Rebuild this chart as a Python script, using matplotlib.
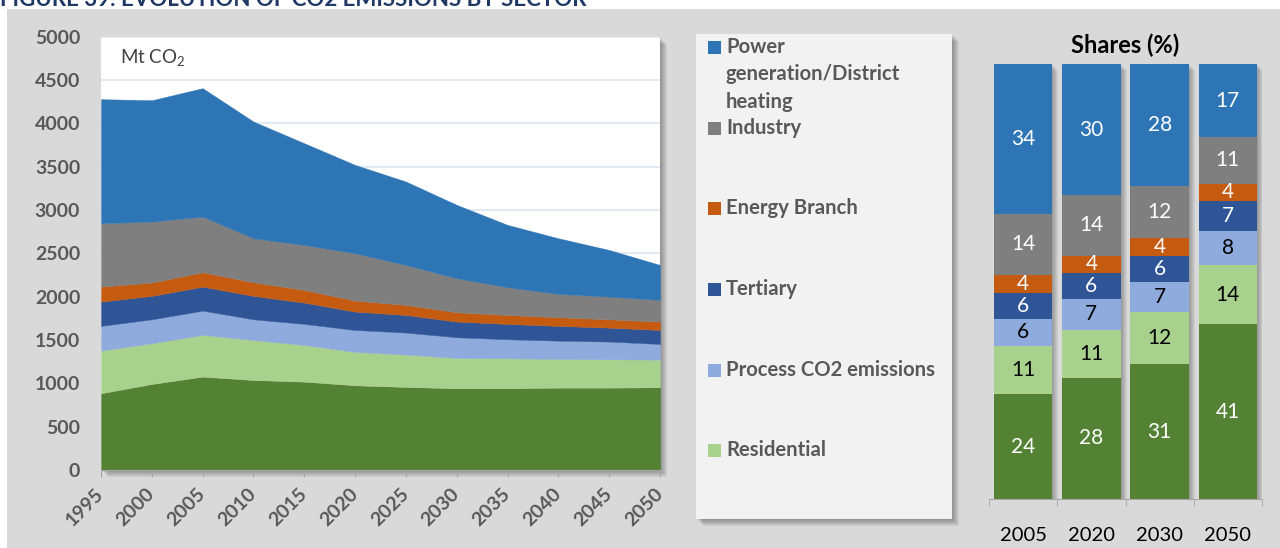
import matplotlib.pyplot as plt
from matplotlib.patches import Rectangle

plt.rcParams['font.family'] = ['Lato', 'DejaVu Sans']
plt.rcParams['mathtext.fontset'] = 'custom'
plt.rcParams['mathtext.rm'] = 'Lato'
plt.rcParams['mathtext.it'] = 'Lato:italic'
plt.rcParams['mathtext.bf'] = 'Lato:bold'

W, H = 1280, 548

# emissions by sector, Mt CO2
years = [1995, 2000, 2005, 2010, 2015, 2020, 2025, 2030, 2035, 2040, 2045, 2050]
transport = [885, 992, 1077, 1038, 1019, 977, 958, 942, 942, 950, 950, 954]
residential = [492, 470, 481, 462, 423, 385, 373, 350, 346, 331, 327, 319]
process_co2 = [285, 276, 280, 238, 243, 253, 254, 239, 220, 211, 204, 181]
tertiary = [280, 270, 277, 270, 246, 212, 203, 181, 177, 170, 161, 161]
energy_branch = [173, 154, 166, 157, 146, 127, 116, 107, 103, 100, 96, 97]
industry = [731, 703, 642, 508, 519, 546, 461, 393, 320, 269, 262, 250]
power = [1431, 1400, 1481, 1346, 1173, 1019, 962, 846, 719, 642, 538, 403]

# shares (%) for selected years
share_years = ['2005', '2020', '2030', '2050']
share_transport = [24, 28, 31, 41]
share_residential = [11, 11, 12, 14]
share_process = [6, 7, 7, 8]
share_tertiary = [6, 6, 6, 7]
share_energy = [4, 4, 4, 4]
share_industry = [14, 14, 12, 11]
share_power = [34, 30, 28, 17]

legend_labels = [['Power', 'generation/District', 'heating'], ['Industry'], ['Energy Branch'],
                 ['Tertiary'], ['Process CO2 emissions'], ['Residential']]

colors = ['#548235', '#a9d18e', '#8faadc', '#2f5597', '#c55a11', '#7f7f7f', '#2e75b6']
label_col = '#595959'

fig = plt.figure(figsize=(W / 100, H / 100), dpi=100)


def box(x0, y0, x1, y1):
    return [x0 / W, 1 - y1 / H, (x1 - x0) / W, (y1 - y0) / H]


def fig_rect(x0, y0, x1, y1, **kw):
    fig.patches.append(Rectangle((x0 / W, 1 - y1 / H), (x1 - x0) / W, (y1 - y0) / H,
                                 transform=fig.transFigure, lw=0, **kw))


def shadow(x0, y0, x1, y1, n=7):
    for d in range(1, n + 1):
        fig_rect(x0 + d, y0 + d, x1 + d, y1 + d, color='black', alpha=0.05, zorder=-1)


# page background; the figure caption sits above it, running off the top edge
fig_rect(7, 9, W, H, color='#d9d9d9', zorder=-2)
fig.text(0, 1 - 6.5 / H, 'FIGURE 39: EVOLUTION OF CO2 EMISSIONS BY SECTOR', fontsize=16,
         fontweight='bold', color='#1f3864', va='baseline', ha='left')

# ---- stacked area chart ----
shadow(101, 36.5, 660, 470)
ax = fig.add_axes(box(101, 36.5, 660, 470))
ax.set_facecolor('white')
ax.stackplot(years, transport, residential, process_co2, tertiary, energy_branch, industry, power,
             colors=colors, edgecolor='face', lw=0.3, zorder=2)
ax.set_xlim(1995, 2050)
ax.set_ylim(0, 5000)
ax.set_yticks(range(0, 5001, 500))
ax.set_xticks(years)
ax.grid(axis='y', color='#dce6f2', lw=1.2, zorder=0)
ax.set_axisbelow(True)
for s in ['top', 'left', 'right']:
    ax.spines[s].set_visible(False)
ax.spines['bottom'].set_color('#a6a6a6')
ax.spines['bottom'].set_zorder(3)
ax.tick_params(axis='y', length=0, pad=15, labelsize=14, labelcolor=label_col)
ax.tick_params(axis='x', length=5, color='#a6a6a6', pad=10, labelsize=14, labelcolor=label_col)
for t in ax.get_yticklabels():
    t.set_fontweight('bold')
for t in ax.get_xticklabels():
    t.set_fontweight('bold')
    t.set_rotation(45)
    t.set_ha('right')
    t.set_va('center')
    t.set_rotation_mode('anchor')
fig.text(120 / W, 1 - 57 / H, 'Mt CO$_2$', fontsize=13.5, color='#404040', va='center')

# ---- legend panel ----
shadow(696, 34, 952, 519)
fig_rect(696, 34, 952, 519, color='#f2f2f2', zorder=-0.5)
legend_y = [47, 127.5, 208, 289, 370, 450]
legend_colors = colors[::-1][:6]
for lines, y, c in zip(legend_labels, legend_y, legend_colors):
    fig_rect(708, y - 6, 721, y + 7, color=c, zorder=1)
    for i, line in enumerate(lines):
        fig.text(726 / W, 1 - (y + i * 27.5) / H, line, fontsize=14.6, fontweight='bold',
                 color=label_col, va='center', ha='left')

# ---- shares bar chart ----
bx = fig.add_axes(box(989, 64.3, 1262, 499.3))
bx.set_facecolor('none')
shares = [share_transport, share_residential, share_process, share_tertiary,
          share_energy, share_industry, share_power]
text_cols = ['white', 'black', 'black', 'white', 'white', 'white', 'white']
pos = list(range(len(share_years)))
totals = [sum(s[i] for s in shares) for i in pos]
width = 0.857
px = 4 / 273.0
py = 100 / 435.0
for d in range(1, 7):
    bx.bar([p + d * px for p in pos], [100] * len(pos), width=width, bottom=[-d * py] * len(pos),
           color='black', alpha=0.05, lw=0, zorder=1)
bottom = [0.0] * len(pos)
for vals, c, tc in zip(shares, colors, text_cols):
    h = [v / t * 100 for v, t in zip(vals, totals)]
    bx.bar(pos, h, width=width, bottom=bottom, color=c, lw=0, zorder=2)
    for p, hv, b, v in zip(pos, h, bottom, vals):
        bx.text(p, b + hv / 2, str(v), ha='center', va='center', fontsize=15, color=tc, zorder=3)
    bottom = [b + hv for b, hv in zip(bottom, h)]
bx.set_xlim(-0.5, 3.5)
bx.set_ylim(0, 100)
bx.set_yticks([])
for s in ['top', 'left', 'right']:
    bx.spines[s].set_visible(False)
bx.spines['bottom'].set_color('#a6a6a6')
bx.set_xticks(pos, share_years)
bx.set_xticks([-0.5, 0.5, 1.5, 2.5, 3.5], minor=True)
bx.tick_params(axis='x', which='major', length=0, pad=20, labelsize=14.5, labelcolor='black')
bx.tick_params(axis='x', which='minor', length=5, color='#a6a6a6')
bx.set_title('Shares (%)', fontsize=17, fontweight='bold', color='black', pad=8)

fig.savefig('out.png', dpi=100)
